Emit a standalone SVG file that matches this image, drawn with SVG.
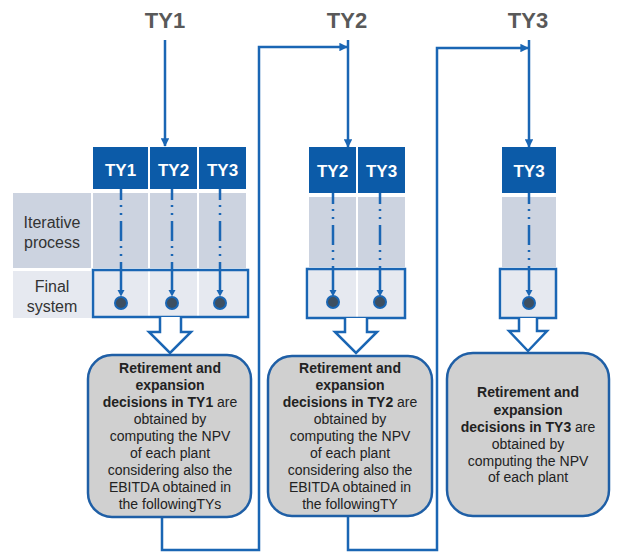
<svg xmlns="http://www.w3.org/2000/svg" width="622" height="554" viewBox="0 0 622 554">
<style>
.bg{fill:#ffffff}
.hdr{fill:#0c5ba8}
.it{fill:#ccd3e0}
.fin{fill:#e6e9f0}
.hdrt{font-family:"Liberation Sans",Arial,sans-serif;font-weight:bold;font-size:17px;fill:#ffffff;text-anchor:middle}
.top{font-family:"Liberation Sans",Arial,sans-serif;font-weight:bold;font-size:22px;fill:#595959;text-anchor:middle}
.lab{font-family:"Liberation Sans",Arial,sans-serif;font-size:16px;fill:#333333;text-anchor:middle}
.conn{fill:none;stroke:#1a66b4;stroke-width:2.5}
.outl{fill:none;stroke:#1a66b4;stroke-width:2.5}
.dd{fill:none;stroke:#1a66b4;stroke-width:2.5;stroke-dasharray:11 5 2 6 2 6 20 5 2 6 2 6 60}
.dot{fill:#3d4f61;stroke:#1a66b4;stroke-width:2}
.tri{fill:#1a66b4}
.harrow{fill:#ffffff;stroke:#1a66b4;stroke-width:2.5;stroke-linejoin:miter}
.box{fill:#d0d0d0;stroke:#1f5fa6;stroke-width:2.5}
.bt{font-family:"Liberation Sans",Arial,sans-serif;font-size:14px;fill:#222222;text-anchor:middle}
.b{font-weight:bold}
</style>
<defs>
<marker id="ah" viewBox="0 0 10 10" refX="9" refY="5" markerWidth="3.4" markerHeight="3.4" orient="auto" markerUnits="strokeWidth">
<path d="M0,0 L10,5 L0,10 Z" fill="#1a66b4"/>
</marker>
</defs>
<rect class="bg" x="0" y="0" width="622" height="554"/>

<g id="labels-top">
<text class="top" x="165" y="28">TY1</text>
<text class="top" x="347" y="28">TY2</text>
<text class="top" x="528" y="28">TY3</text>
</g>

<g id="section1">
<rect class="it" x="13" y="193" width="78" height="75"/>
<rect class="fin" x="13" y="271" width="78" height="47"/>
<text class="lab" x="52" y="228">Iterative</text>
<text class="lab" x="52" y="248">process</text>
<text class="lab" x="52" y="292">Final</text>
<text class="lab" x="52" y="312">system</text>
<rect class="hdr" x="93" y="147" width="55" height="42"/>
<rect class="hdr" x="150" y="147" width="47" height="42"/>
<rect class="hdr" x="199" y="147" width="47" height="42"/>
<text class="hdrt" x="120.5" y="176">TY1</text>
<text class="hdrt" x="173.5" y="176">TY2</text>
<text class="hdrt" x="222.5" y="176">TY3</text>
<rect class="it" x="93" y="193" width="55" height="75"/>
<rect class="it" x="150" y="193" width="47" height="75"/>
<rect class="it" x="199" y="193" width="47" height="75"/>
<rect class="fin" x="93" y="271" width="55" height="46"/>
<rect class="fin" x="150" y="271" width="47" height="46"/>
<rect class="fin" x="199" y="271" width="47" height="46"/>
<rect class="outl" x="93" y="270" width="155" height="47"/>
<line class="dd" x1="121" y1="189" x2="121" y2="291"/>
<line class="dd" x1="172" y1="189" x2="172" y2="291"/>
<line class="dd" x1="220" y1="189" x2="220" y2="291"/>
<path class="tri" d="M117.5,290 h7 l-3.5,6.5 z"/>
<path class="tri" d="M168.5,290 h7 l-3.5,6.5 z"/>
<path class="tri" d="M216.5,290 h7 l-3.5,6.5 z"/>
<circle class="dot" cx="121" cy="303" r="6"/>
<circle class="dot" cx="172" cy="303" r="6"/>
<circle class="dot" cx="220" cy="303" r="6"/>
<path class="harrow" d="M160,317 V332 H149 L170,353 L191,332 H181 V317"/>
</g>

<g id="section2">
<rect class="hdr" x="309" y="147" width="47" height="46"/>
<rect class="hdr" x="358" y="147" width="47" height="46"/>
<text class="hdrt" x="332.5" y="177">TY2</text>
<text class="hdrt" x="381.5" y="177">TY3</text>
<rect class="it" x="309" y="197" width="47" height="70"/>
<rect class="it" x="358" y="197" width="47" height="70"/>
<rect class="fin" x="309" y="270" width="47" height="47"/>
<rect class="fin" x="358" y="270" width="47" height="47"/>
<rect class="outl" x="307" y="269" width="98" height="49"/>
<line class="dd" x1="333" y1="193" x2="333" y2="291"/>
<line class="dd" x1="380" y1="193" x2="380" y2="291"/>
<path class="tri" d="M329.5,290 h7 l-3.5,6.5 z"/>
<path class="tri" d="M376.5,290 h7 l-3.5,6.5 z"/>
<circle class="dot" cx="333" cy="302" r="6"/>
<circle class="dot" cx="380" cy="302" r="6"/>
<path class="harrow" d="M345,318 V332 H335 L356,353 L377,332 H367 V318"/>
</g>

<g id="section3">
<rect class="hdr" x="502" y="147" width="54" height="46"/>
<text class="hdrt" x="529" y="177">TY3</text>
<rect class="it" x="502" y="197" width="54" height="70"/>
<rect class="fin" x="502" y="270" width="54" height="47"/>
<rect class="outl" x="500" y="269" width="56" height="49"/>
<line class="dd" x1="529" y1="193" x2="529" y2="291"/>
<path class="tri" d="M525.5,290 h7 l-3.5,6.5 z"/>
<circle class="dot" cx="529" cy="303" r="6"/>
<path class="harrow" d="M519,318 V331 H509 L528,351 L547,331 H537 V318"/>
</g>

<g id="connectors">
<line class="conn" x1="165" y1="40" x2="165" y2="146" marker-end="url(#ah)"/>
<line class="conn" x1="348" y1="40" x2="348" y2="147" marker-end="url(#ah)"/>
<line class="conn" x1="529" y1="40" x2="529" y2="147" marker-end="url(#ah)"/>
<path class="conn" d="M162,517 V550 H259 V47 H347" marker-end="url(#ah)"/>
<path class="conn" d="M348,516 V550 H437 V48 H528" marker-end="url(#ah)"/>
</g>

<g id="box1">
<rect class="box" x="88" y="355" width="163" height="162" rx="24"/>
<text class="bt" x="170" y="373"><tspan class="b">Retirement and</tspan></text>
<text class="bt" x="170" y="390"><tspan class="b">expansion</tspan></text>
<text class="bt" x="170" y="407"><tspan class="b">decisions in TY1</tspan> are</text>
<text class="bt" x="170" y="424">obtained by</text>
<text class="bt" x="170" y="441">computing  the NPV</text>
<text class="bt" x="170" y="458">of each plant</text>
<text class="bt" x="170" y="475">considering also the</text>
<text class="bt" x="170" y="492">EBITDA obtained in</text>
<text class="bt" x="170" y="509">the followingTYs</text>
</g>

<g id="box2">
<rect class="box" x="268" y="356" width="164" height="160" rx="24"/>
<text class="bt" x="350" y="373"><tspan class="b">Retirement and</tspan></text>
<text class="bt" x="350" y="390"><tspan class="b">expansion</tspan></text>
<text class="bt" x="350" y="407"><tspan class="b">decisions in TY2</tspan> are</text>
<text class="bt" x="350" y="424">obtained by</text>
<text class="bt" x="350" y="441">computing  the NPV</text>
<text class="bt" x="350" y="458">of each plant</text>
<text class="bt" x="350" y="475">considering also the</text>
<text class="bt" x="350" y="492">EBITDA obtained in</text>
<text class="bt" x="350" y="509">the followingTY</text>
</g>

<g id="box3">
<rect class="box" x="447" y="353" width="162" height="163" rx="26"/>
<text class="bt" x="528" y="397"><tspan class="b">Retirement and</tspan></text>
<text class="bt" x="528" y="415"><tspan class="b">expansion</tspan></text>
<text class="bt" x="528" y="432"><tspan class="b">decisions in TY3</tspan> are</text>
<text class="bt" x="528" y="449">obtained by</text>
<text class="bt" x="528" y="466">computing  the NPV</text>
<text class="bt" x="528" y="482">of each plant</text>
</g>
</svg>
